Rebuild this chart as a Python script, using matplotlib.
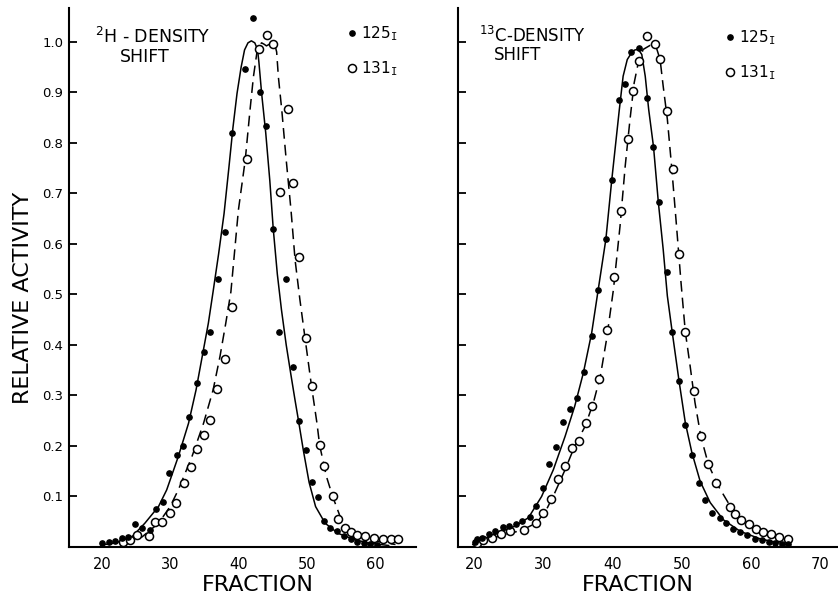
import matplotlib
matplotlib.use("Agg")
import matplotlib.pyplot as plt

plt.rcParams['font.family'] = ['DejaVu Sans']

# ---------------- data: 2H-density shift (left panel) ----------------
h_i125_frac = [20.0, 21.0, 21.9, 22.9, 23.9, 24.8, 25.9, 27.1, 28.0, 28.9, 29.8, 31.0, 31.9, 32.8,
               33.9, 34.9, 35.9, 37.0, 38.0, 39.0, 40.9, 42.2, 43.2, 44.0, 45.1, 46.0, 46.9, 48.0,
               48.9, 49.9, 50.8, 51.6, 52.6, 53.4, 54.5, 55.5, 56.5, 57.3, 58.4, 59.3, 60.3]
h_i125_act = [0.008, 0.010, 0.012, 0.017, 0.020, 0.045, 0.037, 0.034, 0.075, 0.090, 0.146, 0.182,
              0.199, 0.258, 0.324, 0.387, 0.426, 0.530, 0.624, 0.819, 0.946, 1.047, 0.900, 0.834,
              0.629, 0.425, 0.530, 0.356, 0.249, 0.192, 0.128, 0.098, 0.051, 0.038, 0.032, 0.022,
              0.015, 0.010, 0.007, 0.005, 0.004]

h_i131_frac = [23.1, 24.1, 25.1, 26.9, 27.8, 28.8, 30.0, 30.9, 32.0, 33.0, 33.9, 35.0, 35.9, 36.8,
               38.0, 39.0, 41.2, 43.0, 44.15, 45.1, 46.1, 47.2, 48.05, 48.9, 49.9, 50.8, 51.9,
               52.6, 53.8, 54.6, 55.6, 56.5, 57.3, 58.6, 59.8, 61.2, 62.3, 63.3]
h_i131_act = [0.010, 0.013, 0.023, 0.021, 0.050, 0.050, 0.067, 0.088, 0.127, 0.159, 0.194, 0.221,
              0.252, 0.313, 0.372, 0.476, 0.768, 0.985, 1.014, 0.995, 0.702, 0.867, 0.720, 0.574,
              0.414, 0.319, 0.201, 0.161, 0.100, 0.055, 0.038, 0.029, 0.023, 0.022, 0.017, 0.015,
              0.015, 0.015]

# hand-drawn fitted curves
h_fit125_frac = [20.0, 22.0, 24.4, 26.3, 28.3, 29.5, 31.2, 32.7, 33.8, 34.7, 35.6, 36.3, 37.1,
                 37.9, 38.6, 39.2, 39.8, 40.4, 40.9, 41.4, 41.9, 42.4, 42.8, 43.0, 43.4, 44.0,
                 44.6, 45.1, 45.7, 46.3, 47.0, 47.7, 48.3, 48.8, 49.5, 50.35, 51.3, 52.7, 54.6,
                 57.1, 59.5, 62.0]
h_fit125_act = [0.004, 0.008, 0.020, 0.047, 0.080, 0.113, 0.179, 0.245, 0.311, 0.377, 0.443,
                0.506, 0.580, 0.660, 0.750, 0.830, 0.898, 0.950, 0.984, 0.998, 1.002, 0.998,
                0.985, 0.960, 0.898, 0.820, 0.725, 0.630, 0.540, 0.470, 0.400, 0.340, 0.290,
                0.250, 0.192, 0.128, 0.080, 0.047, 0.027, 0.014, 0.007, 0.003]

h_fit131_frac = [23.0, 23.9, 25.9, 28.3, 30.0, 31.2, 33.2, 34.9, 36.3, 37.3, 38.15, 38.9, 40.0,
                 41.0, 41.7, 42.2, 42.7, 43.1, 43.4, 43.8, 44.1, 44.5, 44.9, 45.3, 45.6, 45.85,
                 46.35, 47.0, 47.7, 48.3, 49.0, 49.75, 50.7, 51.5, 51.9, 52.9, 53.8, 54.9, 56.3,
                 58.5, 61.0, 63.0]
h_fit131_act = [0.005, 0.007, 0.020, 0.047, 0.080, 0.113, 0.179, 0.245, 0.311, 0.377, 0.443,
                0.505, 0.667, 0.766, 0.865, 0.931, 0.978, 0.994, 0.998, 0.995, 0.992, 0.995,
                0.998, 0.996, 0.980, 0.931, 0.865, 0.766, 0.667, 0.568, 0.490, 0.414, 0.319,
                0.245, 0.201, 0.139, 0.100, 0.060, 0.034, 0.017, 0.009, 0.005]

# ---------------- data: 13C-density shift (right panel) ----------------
c_i125_frac = [20.0, 20.3, 21.1, 22.1, 23.0, 24.1, 25.0, 26.0, 26.9, 28.0, 28.85, 29.85, 30.8,
               31.8, 32.85, 33.8, 34.8, 35.85, 37.0, 37.9, 39.0, 39.85, 40.95, 41.8, 42.6, 43.8,
               45.0, 45.85, 46.65, 47.8, 48.6, 49.6, 50.5, 51.5, 52.5, 53.4, 54.35, 55.45, 56.4,
               57.4, 58.45, 59.5, 60.6, 61.6, 62.55, 63.5, 64.5, 65.4]
c_i125_act = [0.010, 0.015, 0.018, 0.025, 0.031, 0.039, 0.041, 0.046, 0.052, 0.059, 0.082, 0.117,
              0.165, 0.198, 0.247, 0.274, 0.295, 0.346, 0.418, 0.509, 0.609, 0.726, 0.884, 0.916,
              0.979, 0.987, 0.889, 0.792, 0.682, 0.545, 0.426, 0.328, 0.241, 0.182, 0.127, 0.093,
              0.068, 0.058, 0.048, 0.036, 0.029, 0.023, 0.016, 0.013, 0.010, 0.008, 0.006, 0.005]

c_i131_frac = [20.3, 21.2, 22.5, 23.8, 25.1, 27.2, 28.9, 29.9, 31.0, 32.1, 33.1, 34.05, 35.15,
               36.1, 37.05, 38.05, 39.1, 40.2, 41.2, 42.2, 43.0, 43.8, 44.9, 46.1, 46.85, 47.8,
               48.7, 49.6, 50.5, 51.7, 52.75, 53.8, 55.0, 56.9, 57.7, 58.6, 59.65, 60.8, 61.8,
               62.9, 64.0, 65.35]
c_i131_act = [0.008, 0.013, 0.018, 0.025, 0.031, 0.033, 0.048, 0.068, 0.095, 0.134, 0.160, 0.195,
              0.210, 0.245, 0.279, 0.332, 0.429, 0.535, 0.665, 0.807, 0.903, 0.962, 1.011, 0.995,
              0.967, 0.863, 0.749, 0.581, 0.426, 0.309, 0.219, 0.165, 0.127, 0.080, 0.066, 0.053,
              0.045, 0.036, 0.030, 0.025, 0.020, 0.016]

c_fit125_frac = [19.75, 23.4, 25.8, 27.8, 29.7, 31.4, 33.1, 34.5, 35.75, 36.95, 37.9, 39.0,
                 39.85, 40.95, 41.5, 42.1, 42.75, 43.2, 43.7, 44.2, 44.7, 45.2, 45.9, 46.6, 47.3,
                 47.9, 48.6, 49.6, 50.5, 51.45, 52.65, 54.1, 56.0, 58.45, 61.35, 65.2]
c_fit125_act = [0.005, 0.028, 0.041, 0.058, 0.100, 0.153, 0.219, 0.279, 0.345, 0.424, 0.510,
                0.609, 0.726, 0.866, 0.932, 0.965, 0.979, 0.984, 0.985, 0.975, 0.932, 0.866,
                0.792, 0.682, 0.589, 0.497, 0.426, 0.328, 0.246, 0.187, 0.130, 0.088, 0.054,
                0.031, 0.016, 0.005]

c_fit131_frac = [20.0, 23.4, 26.8, 29.0, 30.4, 31.6, 33.1, 34.5, 36.0, 37.2, 38.2, 39.1, 40.1,
                 41.05, 41.8, 42.5, 43.1, 43.7, 44.4, 45.4, 46.3, 46.85, 47.3, 47.9, 48.55, 49.2,
                 49.9, 50.5, 51.2, 51.9, 52.75, 53.85, 55.3, 57.0, 59.4, 62.3, 65.2]
c_fit131_act = [0.004, 0.021, 0.033, 0.048, 0.074, 0.107, 0.153, 0.200, 0.239, 0.286, 0.338,
                0.411, 0.510, 0.635, 0.754, 0.847, 0.919, 0.959, 0.985, 0.993, 0.989, 0.965,
                0.912, 0.847, 0.748, 0.640, 0.520, 0.426, 0.358, 0.286, 0.219, 0.163, 0.120,
                0.081, 0.048, 0.025, 0.011]

y_ticks = [0.1, 0.2, 0.3, 0.4, 0.5, 0.6, 0.7, 0.8, 0.9, 1.0]
y_ticklabels = ['0.1', '0.2', '0.3', '0.4', '0.5', '0.6', '0.7', '0.8', '0.9', '1.0']
x_ticks_left = [20, 30, 40, 50, 60]
x_ticks_right = [20, 30, 40, 50, 60, 70]
label_125 = '125$_{\\mathtt{I}}$'
label_131 = '131$_{\\mathtt{I}}$'

# ---------------- figure ----------------
W, H = 838, 595
fig = plt.figure(figsize=(W / 100, H / 100), dpi=100)


def px_axes(x0, x1, y_top, y_bot):
    return fig.add_axes([x0 / W, 1 - y_bot / H, (x1 - x0) / W, (y_bot - y_top) / H])


axL = px_axes(69, 416, 8, 547)
axR = px_axes(458, 838, 8, 547)


def draw_panel(ax, fit125x, fit125y, fit131x, fit131y, p125x, p125y, p131x, p131y,
               xlim, xticks, show_ylabels, legend_anchor):
    ax.plot(fit125x, fit125y, color='black', lw=1.1, solid_joinstyle='round', zorder=2)
    ax.plot(fit131x, fit131y, color='black', lw=1.1, dashes=(7, 4), zorder=2)
    h131, = ax.plot(p131x, p131y, linestyle='none', marker='o', ms=5.8, mfc='white',
                    mec='black', mew=1.1, zorder=3, label=label_131)
    h125, = ax.plot(p125x, p125y, linestyle='none', marker='o', ms=3.8, mfc='black',
                    mec='black', zorder=4, label=label_125)
    ax.set_xlim(*xlim)
    ax.set_ylim(0, 1.067)
    ax.set_xticks(xticks)
    ax.set_yticks(y_ticks)
    if show_ylabels:
        ax.set_yticklabels(y_ticklabels)
    else:
        ax.set_yticklabels([])
    for s in ['top', 'right']:
        ax.spines[s].set_visible(False)
    for s in ['left', 'bottom']:
        ax.spines[s].set_linewidth(1.5)
    ax.tick_params(axis='y', direction='in', length=6, width=1.3, labelsize=9.5, pad=4)
    ax.tick_params(axis='x', length=0, labelsize=10.5, pad=7)
    ax.set_xlabel('FRACTION', fontsize=16)
    leg = ax.legend(handles=[h125, h131], loc='upper left', bbox_to_anchor=legend_anchor,
                    frameon=False, fontsize=11, handlelength=0.5, handletextpad=0.35,
                    borderpad=0, borderaxespad=0, labelspacing=1.1, markerscale=1.0)
    return leg


draw_panel(axL, h_fit125_frac, h_fit125_act, h_fit131_frac, h_fit131_act,
           h_i125_frac, h_i125_act, h_i131_frac, h_i131_act,
           (15.2, 66.0), x_ticks_left, True, (0.805, 0.970))
draw_panel(axR, c_fit125_frac, c_fit125_act, c_fit131_frac, c_fit131_act,
           c_i125_frac, c_i125_act, c_i131_frac, c_i131_act,
           (17.6, 72.6), x_ticks_right, False, (0.705, 0.963))

axL.set_ylabel('RELATIVE ACTIVITY', fontsize=16)
axL.yaxis.set_label_coords((33 - 69) / 347, (547 - 298) / 539)
axL.xaxis.set_label_coords((257.5 - 69) / 347, (547 - 575) / 539)
axR.xaxis.set_label_coords((638 - 458) / 380, (547 - 575) / 539)


def ftext(x, y, s, size=12):
    fig.text(x / W, 1 - y / H, s, va='baseline', ha='left', fontsize=size)


ftext(95, 43, '$^{2}$H - DENSITY', 12.5)
ftext(120, 62, 'SHIFT', 12.5)
ftext(479, 42, '$^{13}$C-DENSITY', 12)
ftext(494, 60, 'SHIFT', 12)

fig.savefig('out.png', dpi=100, facecolor='white')
